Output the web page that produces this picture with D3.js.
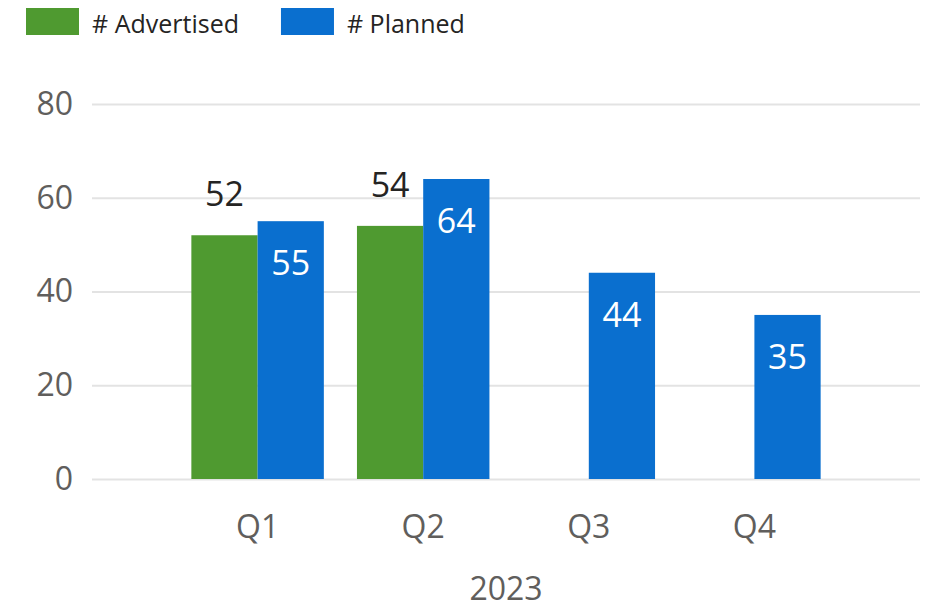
<!DOCTYPE html>
<html>
<head>
<meta charset="utf-8">
<script src="https://cdn.jsdelivr.net/npm/d3@7"></script>
<style>
  body { margin: 0; background: #fff; }
  svg { display: block; font-family: "Open Sans", "Noto Sans", sans-serif; }
</style>
</head>
<body>
<div id="chart"></div>
<script>
  // data
  const quarters = ["Q1", "Q2", "Q3", "Q4"];
  const advertised = [52, 54, null, null];
  const planned = [55, 64, 44, 35];
  const yTicks = [0, 20, 40, 60, 80];
  const yearLabel = "2023";
  const seriesNames = ["# Advertised", "# Planned"];
  const seriesColors = ["#4f9a30", "#0a6fcf"];

  const width = 929, height = 606;
  const margin = { top: 104, right: 9, bottom: 127, left: 92 };
  const innerWidth = width - margin.left - margin.right;
  const innerHeight = height - margin.top - margin.bottom;

  const rows = quarters.map((q, i) => ({
    quarter: q,
    values: [
      { key: seriesNames[0], value: advertised[i], outside: true },
      { key: seriesNames[1], value: planned[i], outside: false }
    ].filter(d => d.value != null)
  }));

  const svg = d3.select("#chart").append("svg")
    .attr("width", width)
    .attr("height", height);

  const g = svg.append("g")
    .attr("transform", `translate(${margin.left},${margin.top})`);

  const x0 = d3.scaleBand()
    .domain(quarters)
    .range([0, innerWidth])
    .paddingInner(0.2)
    .paddingOuter(0.6);

  const x1 = d3.scaleBand()
    .domain(seriesNames)
    .range([0, x0.bandwidth()]);

  const y = d3.scaleLinear()
    .domain([0, 80])
    .range([innerHeight, 0]);

  const color = d3.scaleOrdinal().domain(seriesNames).range(seriesColors);

  // y axis + gridlines
  const yAxis = g.append("g")
    .call(d3.axisLeft(y).tickValues(yTicks).tickSize(-innerWidth).tickPadding(19))
    .attr("font-family", null)
    .attr("font-size", null);
  yAxis.select(".domain").remove();
  yAxis.selectAll("line").attr("stroke", "#e3e3e3").attr("stroke-width", 2);
  yAxis.selectAll("text")
    .attr("fill", "#605e5c")
    .style("font-size", "32px");

  // x axis
  const xAxis = g.append("g")
    .attr("transform", `translate(0,${innerHeight})`)
    .call(d3.axisBottom(x0).tickSize(0).tickPadding(36))
    .attr("font-family", null)
    .attr("font-size", null);
  xAxis.select(".domain").remove();
  xAxis.selectAll("text")
    .attr("fill", "#605e5c")
    .style("font-size", "32px");

  g.append("text")
    .attr("x", innerWidth / 2)
    .attr("y", innerHeight + 121)
    .attr("text-anchor", "middle")
    .attr("fill", "#605e5c")
    .style("font-size", "32px")
    .text(yearLabel);

  // bars
  const groups = g.selectAll(".quarter")
    .data(rows)
    .enter()
    .append("g")
    .attr("class", "quarter")
    .attr("transform", d => `translate(${x0(d.quarter)},0)`);

  groups.selectAll("rect")
    .data(d => d.values)
    .enter()
    .append("rect")
    .attr("x", d => x1(d.key))
    .attr("y", d => y(d.value))
    .attr("width", x1.bandwidth())
    .attr("height", d => innerHeight - y(d.value))
    .attr("fill", d => color(d.key));

  groups.selectAll(".label")
    .data(d => d.values)
    .enter()
    .append("text")
    .attr("class", "label")
    .attr("x", d => x1(d.key) + x1.bandwidth() / 2)
    .attr("y", d => d.outside ? y(d.value) - 29 : y(d.value) + 54)
    .attr("text-anchor", "middle")
    .attr("fill", d => d.outside ? "#252423" : "#ffffff")
    .style("font-size", "34px")
    .text(d => d.value);

  // legend
  const legend = svg.append("g").attr("transform", "translate(26,8)");
  let lx = 0;
  seriesNames.forEach((name, i) => {
    const item = legend.append("g").attr("transform", `translate(${lx},0)`);
    item.append("rect")
      .attr("width", 53)
      .attr("height", 27)
      .attr("fill", color(name));
    const t = item.append("text")
      .attr("x", 66)
      .attr("y", 25)
      .attr("fill", "#252423")
      .style("font-size", "25px")
      .text(name);
    lx += 66 + t.node().getComputedTextLength() + 42;
  });
</script>
</body>
</html>
